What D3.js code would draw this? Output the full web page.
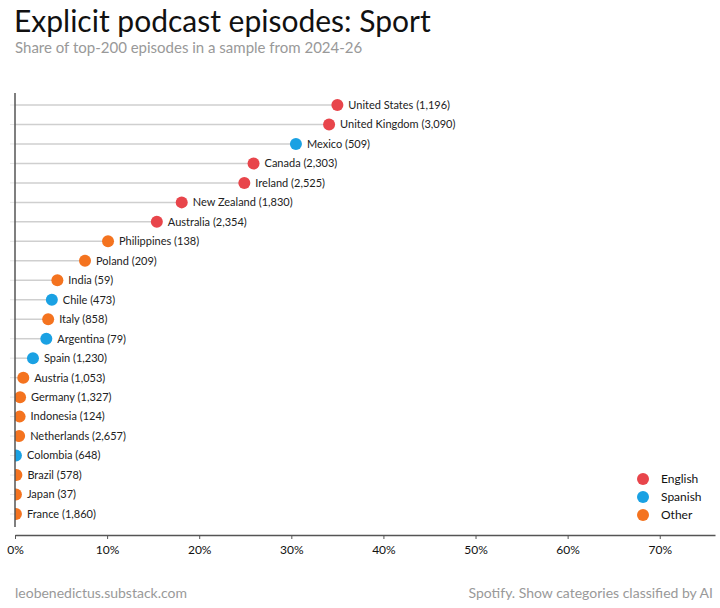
<!DOCTYPE html>
<html lang="en">

<head>
    <meta charset="UTF-8">
    <title>Explicit podcast episodes: Sport</title>
    <script src="https://cdn.jsdelivr.net/npm/d3@7"></script>
    <style>
        body {
            margin: 0;
            padding: 0;
            background: white;
        }

        svg text {
            font-family: Lato, "Open Sans", sans-serif;
        }
    </style>
</head>

<body>
    <div id="chart"></div>
    <script>
        // data
        const countries = ['United States', 'United Kingdom', 'Mexico', 'Canada', 'Ireland', 'New Zealand',
            'Australia', 'Philippines', 'Poland', 'India', 'Chile', 'Italy', 'Argentina', 'Spain', 'Austria',
            'Germany', 'Indonesia', 'Netherlands', 'Colombia', 'Brazil', 'Japan', 'France']
        const shares = [0.350, 0.341, 0.305, 0.259, 0.249, 0.181, 0.154, 0.101, 0.076, 0.046, 0.040, 0.036,
            0.034, 0.0195, 0.009, 0.0055, 0.005, 0.0045, 0.001, 0.0015, 0.001, 0.001]
        const counts = ['1,196', '3,090', '509', '2,303', '2,525', '1,830', '2,354', '138', '209', '59', '473',
            '858', '79', '1,230', '1,053', '1,327', '124', '2,657', '648', '578', '37', '1,860']
        const languages = ['English', 'English', 'Spanish', 'English', 'English', 'English', 'English', 'Other',
            'Other', 'Other', 'Spanish', 'Other', 'Spanish', 'Spanish', 'Other', 'Other', 'Other', 'Other',
            'Spanish', 'Other', 'Other', 'Other']
        const legendItems = ['English', 'Spanish', 'Other']
        const xTicks = [0, 0.1, 0.2, 0.3, 0.4, 0.5, 0.6, 0.7]

        const w = 720
        const h = 608
        const left = 15
        const right = 715
        const axisY = 535

        const colour = d3.scaleOrdinal()
            .domain(legendItems)
            .range(['#e8454b', '#1aa1e3', '#f4731f'])

        const xScale = d3.scaleLinear().domain([0, 0.76]).range([left, right])
        const yScale = d3.scalePoint().domain(countries).range([105, 514])

        const svg = d3.select('#chart').append('svg')
            .attr('width', w)
            .attr('height', h)

        // titles
        svg.append('text')
            .attr('x', 14).attr('y', 32)
            .attr('font-size', 30)
            .attr('fill', '#111')
            .text('Explicit podcast episodes: Sport')
        svg.append('text')
            .attr('x', 15).attr('y', 53)
            .attr('font-size', 15)
            .attr('fill', '#999')
            .text('Share of top-200 episodes in a sample from 2024-26')

        // clip so the dots stop at the left axis
        svg.append('clipPath').attr('id', 'plot')
            .append('rect')
            .attr('x', left).attr('y', 80)
            .attr('width', right - left).attr('height', 460)

        const rows = countries.map((c, i) => ({ c, v: shares[i], n: counts[i], lang: languages[i] }))

        const plot = svg.append('g').attr('clip-path', 'url(#plot)')

        plot.selectAll('line.stem')
            .data(rows)
            .enter()
            .append('line')
            .attr('class', 'stem')
            .attr('x1', left)
            .attr('x2', d => xScale(d.v))
            .attr('y1', d => yScale(d.c))
            .attr('y2', d => yScale(d.c))
            .attr('stroke', '#cfcfcf')
            .attr('stroke-width', 1.5)

        plot.selectAll('circle')
            .data(rows)
            .enter()
            .append('circle')
            .attr('cx', d => xScale(d.v))
            .attr('cy', d => yScale(d.c))
            .attr('r', 6)
            .attr('fill', d => colour(d.lang))

        svg.selectAll('text.label')
            .data(rows)
            .enter()
            .append('text')
            .attr('class', 'label')
            .attr('x', d => xScale(d.v) + 11)
            .attr('y', d => yScale(d.c))
            .attr('dy', '0.35em')
            .attr('font-size', 11)
            .attr('fill', '#222')
            .text(d => `${d.c} (${d.n})`)

        // left axis: line with tiny light ticks, no labels
        const yAxis = svg.append('g')
            .attr('transform', `translate(${left},0)`)
        yAxis.selectAll('line.tick')
            .data(countries)
            .enter()
            .append('line')
            .attr('x1', -5).attr('x2', 0)
            .attr('y1', d => yScale(d)).attr('y2', d => yScale(d))
            .attr('stroke', '#e6e6e6')
        yAxis.append('line')
            .attr('x1', 0).attr('x2', 0)
            .attr('y1', 93).attr('y2', 527)
            .attr('stroke', '#555')
            .attr('stroke-width', 1.5)

        // bottom axis
        const xAxis = d3.axisBottom(xScale)
            .tickValues(xTicks)
            .tickFormat(d3.format('.0%'))
            .tickSize(4)
            .tickSizeOuter(0)
        const gx = svg.append('g')
            .attr('transform', `translate(0,${axisY})`)
            .call(xAxis)
        gx.select('.domain').attr('stroke', '#555').attr('stroke-width', 1.5)
        gx.selectAll('.tick line').attr('stroke', '#555')
        gx.selectAll('.tick text')
            .attr('font-family', 'Lato, sans-serif')
            .attr('font-size', 12)
            .attr('fill', '#111')
            .attr('dy', '1em')

        // legend
        const legend = svg.append('g')
        legend.selectAll('circle')
            .data(legendItems)
            .enter()
            .append('circle')
            .attr('cx', 643)
            .attr('cy', (d, i) => 479 + i * 18)
            .attr('r', 6)
            .attr('fill', d => colour(d))
        legend.selectAll('text')
            .data(legendItems)
            .enter()
            .append('text')
            .attr('x', 661)
            .attr('y', (d, i) => 479 + i * 18)
            .attr('dy', '0.35em')
            .attr('font-size', 12)
            .attr('fill', '#111')
            .text(d => d)

        // footer
        svg.append('text')
            .attr('x', 15).attr('y', 598)
            .attr('font-size', 14)
            .attr('fill', '#999')
            .text('leobenedictus.substack.com')
        svg.append('text')
            .attr('x', 713).attr('y', 598)
            .attr('text-anchor', 'end')
            .attr('font-size', 14)
            .attr('fill', '#999')
            .text('Spotify. Show categories classified by AI')
    </script>
</body>

</html>
